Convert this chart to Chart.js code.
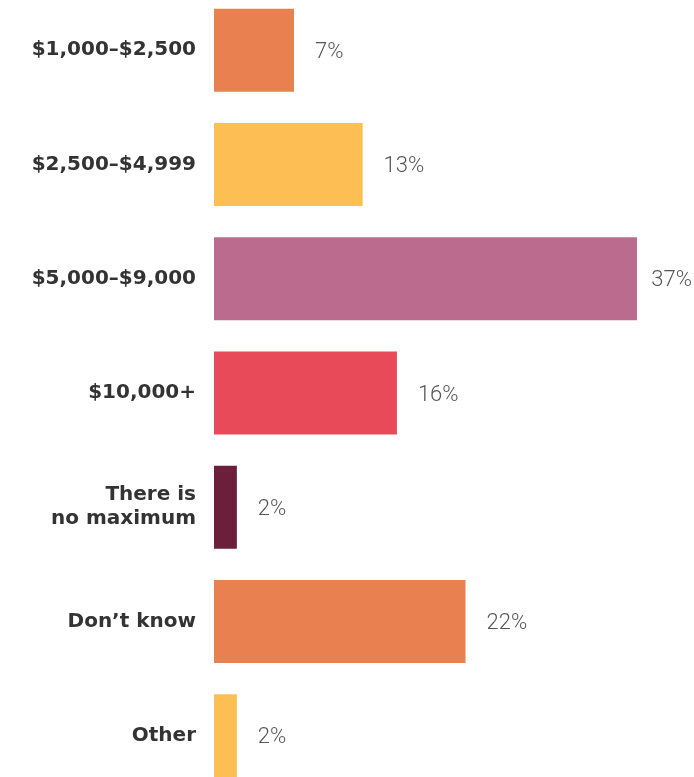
<!DOCTYPE html>
<html>
<head>
<meta charset="utf-8">
<script src="https://cdn.jsdelivr.net/npm/chart.js@4/dist/chart.umd.min.js"></script>
<style>
  html, body { margin: 0; padding: 0; background: #ffffff; overflow: hidden; width: 694px; height: 777px; }
  #wrap { position: absolute; left: 0; top: -7px; width: 694px; height: 800px; }
</style>
</head>
<body>
<div id="wrap"><canvas id="c"></canvas></div>
<script>
const categories = ["$1,000–$2,500", "$2,500–$4,999", "$5,000–$9,000", "$10,000+", ["There is", "no maximum"], "Don’t know", "Other"];
const values = [7, 13, 37, 16, 2, 22, 2];
const valueLabels = ["7%", "13%", "37%", "16%", "2%", "22%", "2%"];
const barColors = ["#E9804F", "#FDBF54", "#BA6B8E", "#E84A59", "#6B1F3B", "#E9804F", "#FDBF54"];

const valueLabelPlugin = {
  id: 'valueLabels',
  afterDatasetsDraw(chart) {
    const ctx = chart.ctx;
    const meta = chart.getDatasetMeta(0);
    ctx.save();
    ctx.font = '300 22px Roboto';
    ctx.fillStyle = '#555555';
    ctx.textBaseline = 'middle';
    ctx.textAlign = 'left';
    meta.data.forEach((bar, i) => {
      const txt = valueLabels[i];
      const w = ctx.measureText(txt).width;
      let x = bar.x + 21;
      if (x + w > chart.width - 2) x = chart.width - 2 - w;
      ctx.fillText(txt, x, bar.y + 2);
    });
    ctx.restore();
  }
};

new Chart(document.getElementById('c'), {
  type: 'bar',
  data: {
    labels: categories,
    datasets: [{
      data: values,
      backgroundColor: barColors,
      borderWidth: 0,
      barPercentage: 0.726,
      categoryPercentage: 1.0
    }]
  },
  options: {
    indexAxis: 'y',
    responsive: true,
    maintainAspectRatio: false,
    animation: false,
    layout: { autoPadding: false, padding: { left: 0, right: 57, top: 0, bottom: 0 } },
    plugins: { legend: { display: false }, tooltip: { enabled: false } },
    scales: {
      x: { display: false, min: 0, max: 37 },
      y: {
        grid: { display: false, drawTicks: false },
        border: { display: false },
        ticks: {
          color: '#333333',
          font: { family: 'DejaVu Sans', weight: 'bold', size: 20, lineHeight: 1.2 },
          padding: 18
        },
        afterFit(scale) {
          scale.width = 214;
          scale.paddingTop = 0;
          scale.paddingBottom = 0;
        }
      }
    }
  },
  plugins: [valueLabelPlugin]
});
</script>
</body>
</html>
